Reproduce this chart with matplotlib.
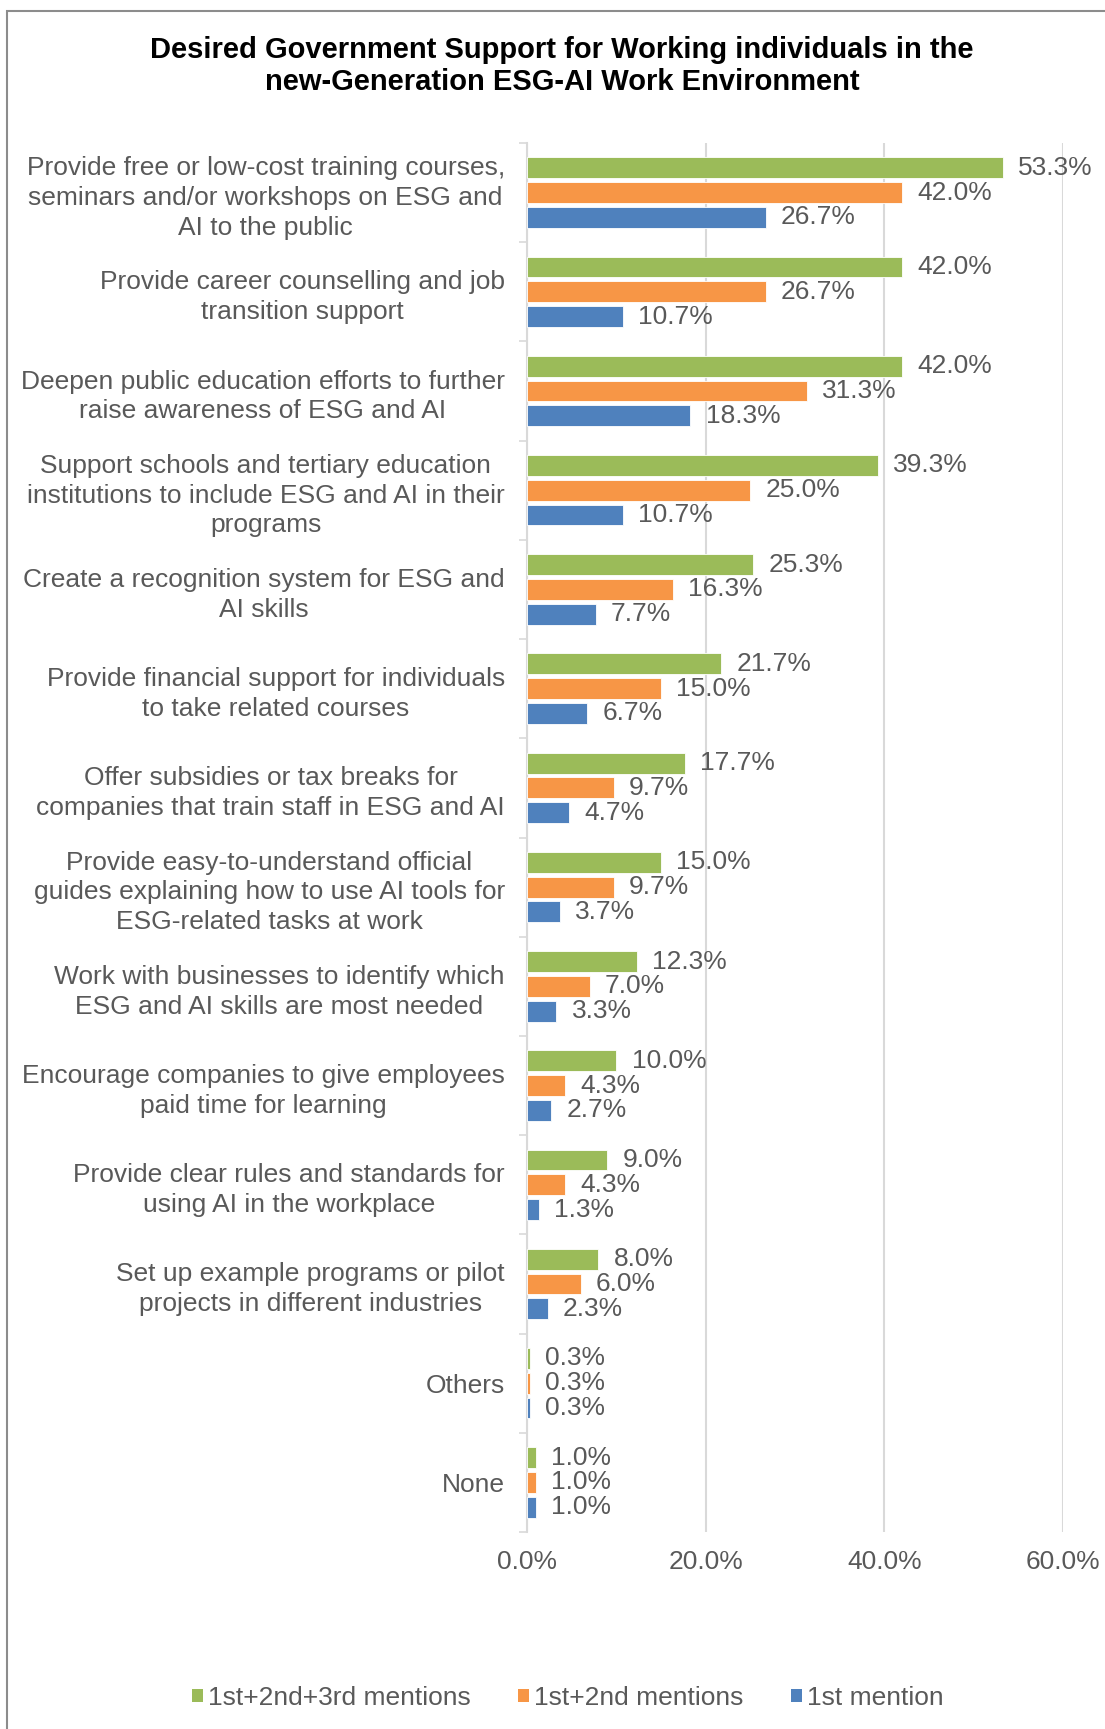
import numpy as np
import matplotlib
matplotlib.use("Agg")
from matplotlib import pyplot as plt, patches
from matplotlib.ticker import FixedLocator

plt.rcParams['font.family'] = ['Liberation Sans', 'DejaVu Sans']

categories = [
    "Provide free or low-cost training courses,\nseminars and/or workshops on ESG and\nAI to the public",
    "Provide career counselling and job\ntransition support",
    "Deepen public education efforts to further\nraise awareness of ESG and AI",
    "Support schools and tertiary education\ninstitutions to include ESG and AI in their\nprograms",
    "Create a recognition system for ESG and\nAI skills",
    "Provide financial support for individuals\nto take related courses",
    "Offer subsidies or tax breaks for\ncompanies that train staff in ESG and AI",
    "Provide easy-to-understand official\nguides explaining how to use AI tools for\nESG-related tasks at work",
    "Work with businesses to identify which\nESG and AI skills are most needed",
    "Encourage companies to give employees\npaid time for learning",
    "Provide clear rules and standards for\nusing AI in the workplace",
    "Set up example programs or pilot\nprojects in different industries",
    "Others",
    "None",
]
top3 = [53.3, 42.0, 42.0, 39.3, 25.3, 21.7, 17.7, 15.0, 12.3, 10.0, 9.0, 8.0, 0.3, 1.0]
top2 = [42.0, 26.7, 31.3, 25.0, 16.3, 15.0, 9.7, 9.7, 7.0, 4.3, 4.3, 6.0, 0.3, 1.0]
top1 = [26.7, 10.7, 18.3, 10.7, 7.7, 6.7, 4.7, 3.7, 3.3, 2.7, 1.3, 2.3, 0.3, 1.0]
series_names = ["1st+2nd+3rd mentions", "1st+2nd mentions", "1st mention"]
colors = ["#9BBB59", "#F79646", "#4F81BD"]
xticks = [0, 20, 40, 60]

text_color = "#595959"
grid_color = "#D9D9D9"
fs = 19

W, H = 1105, 1729
fig = plt.figure(figsize=(W / 100, H / 100), dpi=100)
ax = fig.add_axes([527 / W, 1 - 1532 / H, (1063 - 527) / W, (1532 - 143) / H])

y = np.arange(len(categories))
bar_h = 0.21
step = 0.25
for k, (vals, name, col) in enumerate(zip([top3, top2, top1], series_names, colors)):
    bars = ax.barh(y + (k - 1) * step, vals, height=bar_h, color=col,
                   edgecolor="white", linewidth=0.6, label=name, zorder=3)
    ax.bar_label(bars, fmt="%.1f%%", padding=11, fontsize=fs, color=text_color)

ax.set_xlim(0, 60)
ax.set_ylim(len(categories) - 0.5, -0.5)
ax.set_xticks(xticks)
ax.set_xticklabels([f"{v:.1f}%" for v in xticks], fontsize=fs, color=text_color)
ax.tick_params(axis="x", length=0, pad=13)
ax.grid(axis="x", color=grid_color, linewidth=1.5, zorder=0)

ax.set_yticks(y)
ax.set_yticklabels(categories, fontsize=fs, color=text_color, multialignment="center",
                   linespacing=1.3)
ax.tick_params(axis="y", which="major", length=0, pad=16)
ax.yaxis.set_minor_locator(FixedLocator(np.arange(-0.5, len(categories), 1)))
ax.tick_params(axis="y", which="minor", length=6, width=1.2, color=grid_color, direction="out")

for s in ["top", "right", "bottom"]:
    ax.spines[s].set_visible(False)
ax.spines["left"].set_color(grid_color)
ax.spines["left"].set_linewidth(1.5)

fig.text(562 / W, 1 - 66 / H,
         "Desired Government Support for Working individuals in the\nnew-Generation ESG-AI Work Environment",
         ha="center", va="center", fontsize=21, fontweight="bold", color="black", linespacing=1.18)

handles = [patches.Patch(facecolor=c, edgecolor="none") for c in colors]
fig.legend(handles, series_names, loc="center", bbox_to_anchor=(568 / W, 1 - 1698 / H), ncol=3,
           frameon=False, fontsize=fs, labelcolor=text_color, handlelength=0.4, handleheight=0.4,
           handletextpad=0.2, columnspacing=1.8)

# outer chart frame (only left and top edges are inside the picture)
fig.patches.append(patches.Rectangle((7 / W, -0.05), 1.2, 1 - 11 / H + 0.05, transform=fig.transFigure,
                                     fill=False, edgecolor="#8C8C8C", linewidth=1.5))

fig.savefig("out.png", dpi=100, facecolor="white")
